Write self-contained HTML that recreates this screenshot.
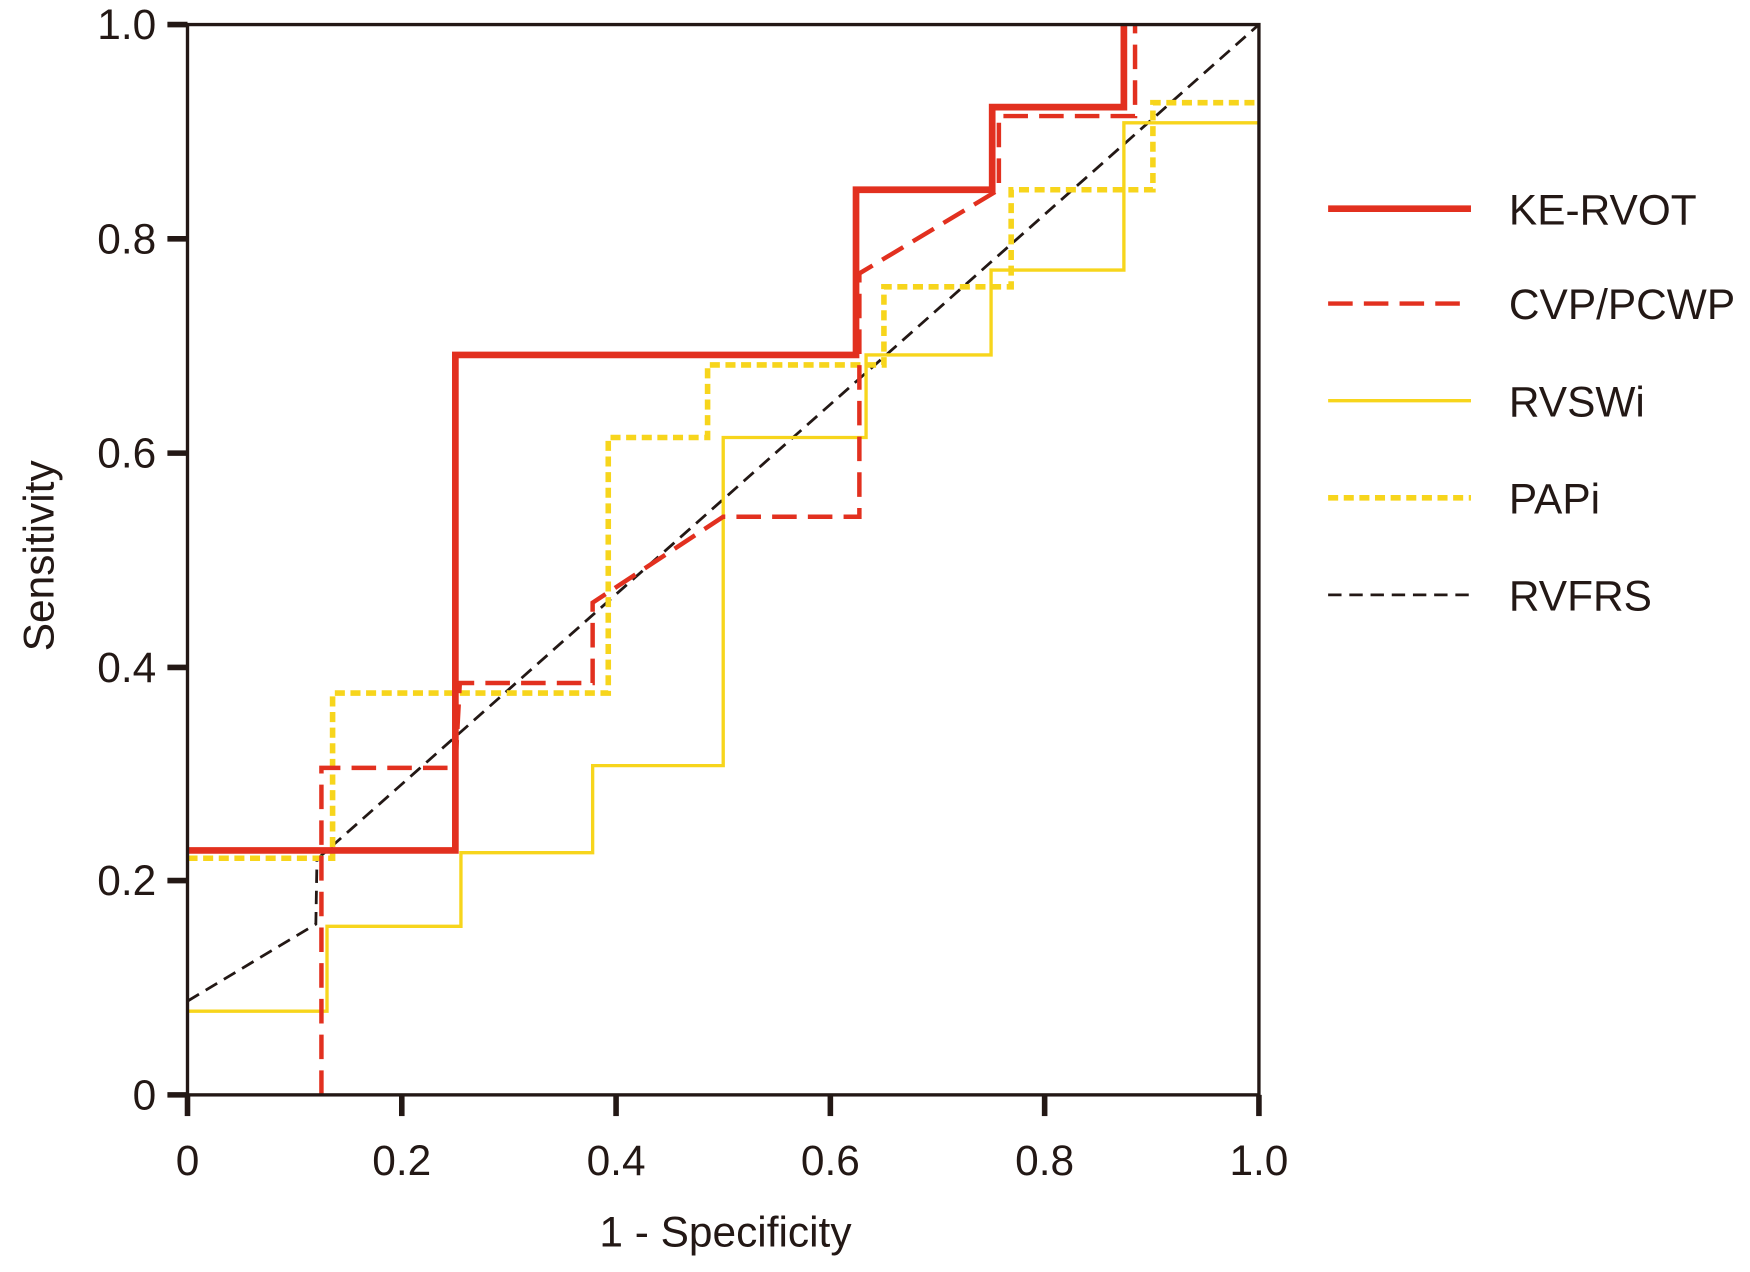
<!DOCTYPE html>
<html><head><meta charset="utf-8"><style>html,body{margin:0;padding:0;background:#fff}svg{display:block}</style></head><body>
<svg width="1750" height="1272" viewBox="0 0 1568 1139.7" xmlns="http://www.w3.org/2000/svg" font-family="Liberation Sans, sans-serif" fill="#231815">
<rect width="1568" height="1140" fill="#fff"/>
<g fill="none">
<!-- RVFRS -->
<polyline points="168,897 283,828 284,770 1128,22" stroke="#231815" stroke-width="2.5" stroke-dasharray="12,7"/>
<!-- RVSWi -->
<polyline points="168,906 293,906 293,830 413,830 413,764 531,764 531,686 648,686 648,392 776,392 776,318 888,318 888,242 1007,242 1007,110 1128,110" stroke="#f7d51c" stroke-width="3"/>
<!-- PAPi -->
<polyline points="168,769 298,769 298,621 545,621 545,392 634,392 634,327 792,327 792,257 906,257 906,170 1033,170 1033,92 1128,92" stroke="#f7d51c" stroke-width="5" stroke-dasharray="9,5"/>
<!-- CVP/PCWP -->
<polyline points="288,981 288,688 408,688 412,612 531,612 531,540 648,463 770,463 770,245 895,170 895,104 1017,104 1017,22" stroke="#e2301f" stroke-width="4" stroke-dasharray="22,10"/>
<!-- KE-RVOT -->
<polyline points="168,762 408,762 408,318 767,318 767,170 889,170 889,96 1007,96 1007,22" stroke="#e2301f" stroke-width="6"/>
<!-- frame -->
<rect x="168" y="22" width="960" height="959" stroke="#231815" stroke-width="3"/>
<g stroke="#231815" stroke-width="5">
<line x1="150" y1="22" x2="168" y2="22"/><line x1="150" y1="214" x2="168" y2="214"/><line x1="150" y1="406" x2="168" y2="406"/><line x1="150" y1="598" x2="168" y2="598"/><line x1="150" y1="789" x2="168" y2="789"/><line x1="150" y1="981" x2="168" y2="981"/>
<line x1="168" y1="981" x2="168" y2="1000"/><line x1="360" y1="981" x2="360" y2="1000"/><line x1="552" y1="981" x2="552" y2="1000"/><line x1="744" y1="981" x2="744" y2="1000"/><line x1="936" y1="981" x2="936" y2="1000"/><line x1="1128" y1="981" x2="1128" y2="1000"/>
</g>
<!-- legend lines -->
<line x1="1190" y1="187" x2="1318" y2="187" stroke="#e2301f" stroke-width="6"/>
<line x1="1190" y1="272" x2="1318" y2="272" stroke="#e2301f" stroke-width="4" stroke-dasharray="22,10"/>
<line x1="1190" y1="359" x2="1318" y2="359" stroke="#f7d51c" stroke-width="3"/>
<line x1="1190" y1="446" x2="1318" y2="446" stroke="#f7d51c" stroke-width="5" stroke-dasharray="9,5"/>
<line x1="1190" y1="533" x2="1318" y2="533" stroke="#231815" stroke-width="2.5" stroke-dasharray="12,7"/>
</g>
<g font-size="38" text-anchor="end">
<text x="140" y="35">1.0</text><text x="140" y="227">0.8</text><text x="140" y="419">0.6</text><text x="140" y="611">0.4</text><text x="140" y="802">0.2</text><text x="140" y="994">0</text>
</g>
<g font-size="38" text-anchor="middle">
<text x="168" y="1053">0</text><text x="360" y="1053">0.2</text><text x="552" y="1053">0.4</text><text x="744" y="1053">0.6</text><text x="936" y="1053">0.8</text><text x="1128" y="1053">1.0</text>
<text x="650" y="1117">1 - Specificity</text>
<text transform="translate(48,498) rotate(-90)">Sensitivity</text>
</g>
<g font-size="38">
<text x="1352" y="201">KE-RVOT</text><text x="1352" y="286">CVP/PCWP</text><text x="1352" y="373">RVSWi</text><text x="1352" y="460">PAPi</text><text x="1352" y="547">RVFRS</text>
</g>
</svg>
</body></html>
